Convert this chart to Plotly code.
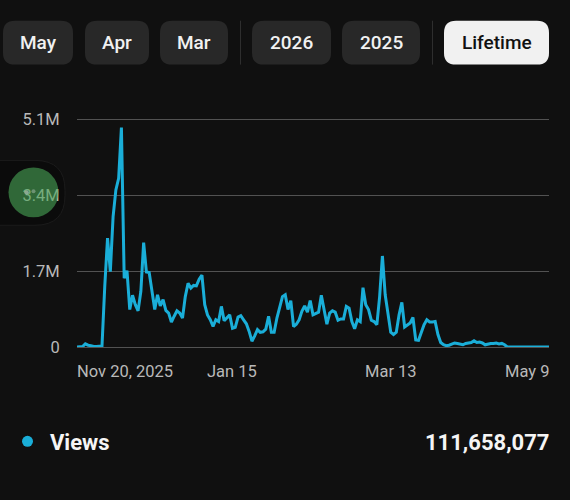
import pandas as pd
import plotly.graph_objects as go

start_date = "2025-11-20"
views_m = [
    0, 0, 0.01, 0.07, 0.04, 0.03, 0.01, 0.01, 0.01, 0.02,
    1.36, 2.44, 1.69, 2.92, 3.52, 3.78, 4.92, 1.54, 1.71, 0.84,
    1.16, 0.95, 0.81, 1.25, 2.34, 1.68, 1.67, 1.25, 0.84, 1.17,
    0.92, 1.06, 0.82, 0.76, 0.56, 0.69, 0.81, 0.76, 0.65, 1.13,
    1.43, 1.32, 1.38, 1.37, 1.52, 1.61, 0.95, 0.72, 0.61, 0.46,
    0.61, 0.57, 0.91, 0.59, 0.65, 0.72, 0.42, 0.44, 0.67, 0.70,
    0.61, 0.52, 0.35, 0.13, 0.25, 0.39, 0.33, 0.34, 0.40, 0.69,
    0.33, 0.33, 0.65, 0.87, 1.13, 1.17, 0.84, 1.04, 0.46, 0.51,
    0.61, 0.80, 0.92, 0.78, 1.04, 0.72, 0.75, 0.78, 1.16, 0.80,
    0.51, 0.76, 0.81, 0.78, 0.60, 0.63, 0.63, 0.91, 0.87, 0.57,
    0.41, 0.61, 0.57, 1.33, 0.95, 0.84, 0.60, 0.57, 0.50, 1.13,
    2.04, 1.17, 0.69, 0.33, 0.28, 0.33, 0.72, 1.00, 0.45, 0.50,
    0.54, 0.66, 0.16, 0.15, 0.31, 0.50, 0.61, 0.56, 0.56, 0.57,
    0.28, 0.10, 0.05, 0.03, 0.04, 0.07, 0.09, 0.08, 0.06, 0.05,
    0.08, 0.09, 0.10, 0.14, 0.10, 0.11, 0.09, 0.05, 0.07, 0.08,
    0.08, 0.09, 0.07, 0.08, 0.05, 0, 0, 0, 0, 0,
    0, 0, 0, 0, 0, 0, 0, 0, 0, 0, 0,
]
y_ticks = [0, 1.7, 3.4, 5.1]
y_labels = ["0", "1.7M", "3.4M", "5.1M"]
y_top = 5.2
x_tick_dates = ["2025-11-20", "2026-01-15", "2026-03-13", "2026-05-09"]
x_tick_labels = ["Nov 20, 2025", "Jan 15", "Mar 13", "May 9"]
x_tick_anchors = ["left", "center", "center", "right"]
buttons = ["May", "Apr", "Mar", "2026", "2025", "Lifetime"]
legend_name = "Views"
legend_total = "111,658,077"

W, H = 570, 500
L, R, T, B = 77, 21, 114.5, 153
BG = "#101010"
LINE = "#1aaed8"
FONT = "Roboto"
SHIFT = {"left": -2, "center": 0, "right": 2}


def px(x):
    return (x - L) / (W - L - R)


def py(y):
    return 1 - (y - T) / (H - T - B)


def rounded(x0, y0, x1, y1, r, **kw):
    a, b, c, d = px(x0), px(x1), py(y0), py(y1)
    rx, ry = r / (W - L - R), r / (H - T - B)
    path = (
        f"M{a+rx},{c} L{b-rx},{c} Q{b},{c} {b},{c-ry} L{b},{d+ry} Q{b},{d} {b-rx},{d} "
        f"L{a+rx},{d} Q{a},{d} {a},{d+ry} L{a},{c-ry} Q{a},{c} {a+rx},{c} Z"
    )
    return dict(type="path", xref="paper", yref="paper", path=path, **kw)


def circle(cx, cy, r, **kw):
    return dict(type="circle", xref="paper", yref="paper",
                x0=px(cx - r), x1=px(cx + r), y0=py(cy + r), y1=py(cy - r), **kw)


def text(x, y, s, size, color, anchor="center", weight=400):
    return dict(xref="paper", yref="paper", x=px(x), y=py(y), text=s, showarrow=False,
                xanchor=anchor, yanchor="middle", xshift=SHIFT[anchor],
                font=dict(family=FONT, size=size, color=color, weight=weight))


button_boxes = [(3, 73), (85, 149), (160, 228), (252, 331), (342, 420), (444, 549)]
shapes, notes = [], []
for name, (x0, x1) in zip(buttons, button_boxes):
    active = name == "Lifetime"
    shapes.append(rounded(x0, 20, x1, 64, 12, fillcolor="#f1f1f1" if active else "#282828",
                          line=dict(width=0), layer="below"))
    notes.append(text((x0 + x1) / 2, 41.5, name, 19, "#111111" if active else "#f1f1f1", weight=500))
for xd in (240.5, 432.5):
    shapes.append(dict(type="line", xref="paper", yref="paper", x0=px(xd), x1=px(xd),
                       y0=py(20), y1=py(64), line=dict(color="#2e2e2e", width=1), layer="below"))

# Floating bubble overlapping the y axis
shapes.append(rounded(-30, 160, 65, 225, 30, fillcolor="#0b0b0b",
                      line=dict(color="#1b1b1b", width=1), layer="below"))
shapes.append(circle(33.5, 192, 25, fillcolor="rgba(74,167,87,0.6)", line=dict(width=0), layer="above"))
shapes.append(circle(26.5, 192, 2.2, fillcolor="rgba(170,190,175,0.75)", line=dict(width=0), layer="above"))
shapes.append(circle(33.5, 191, 2.0, fillcolor="rgba(150,175,155,0.6)", line=dict(width=0), layer="above"))

# Legend row
shapes.append(circle(27.5, 441.5, 5.5, fillcolor=LINE, line=dict(width=0)))
notes.append(text(50, 442.5, legend_name, 22, "#f5f5f5", "left", 700))
notes.append(text(549, 442.5, legend_total, 22, "#f5f5f5", "right", 700))

# X axis labels, aligned at the ends as in the app
for d, lab, anc in zip(x_tick_dates, x_tick_labels, x_tick_anchors):
    notes.append(dict(xref="x", yref="paper", x=d, y=py(371.5), text=lab, showarrow=False,
                      xanchor=anc, yanchor="middle", xshift=SHIFT[anc],
                      font=dict(family=FONT, size=16.5, color="#b9b9b9")))

dates = pd.date_range(start_date, periods=len(views_m), freq="D")
fig = go.Figure(go.Scatter(x=dates, y=views_m, mode="lines", cliponaxis=False,
                           line=dict(color=LINE, width=3), hoverinfo="skip"))
fig.update_layout(
    width=W, height=H, autosize=False, margin=dict(l=L, r=R, t=T, b=B, pad=0),
    paper_bgcolor=BG, plot_bgcolor=BG, showlegend=False,
    shapes=shapes, annotations=notes,
    xaxis=dict(range=[dates[0], dates[-1]], showgrid=False, zeroline=False,
               showticklabels=False, ticks="", showline=False),
    yaxis=dict(range=[0, y_top], tickmode="array", tickvals=y_ticks, ticktext=y_labels,
               showgrid=True, gridcolor="#525252", gridwidth=1, zeroline=True,
               zerolinecolor="#525252", zerolinewidth=1, showline=False,
               ticks="outside", ticklen=13, tickcolor="rgba(0,0,0,0)",
               tickfont=dict(family=FONT, size=16.5, color="#b9b9b9")),
)
fig.write_html(
    "out.html",
    config=dict(displayModeBar=False),
    post_script="document.documentElement.style.background='#101010';"
                "document.body.style.margin='0';document.body.style.background='#101010';"
                "document.body.style.overflow='hidden';",
)
